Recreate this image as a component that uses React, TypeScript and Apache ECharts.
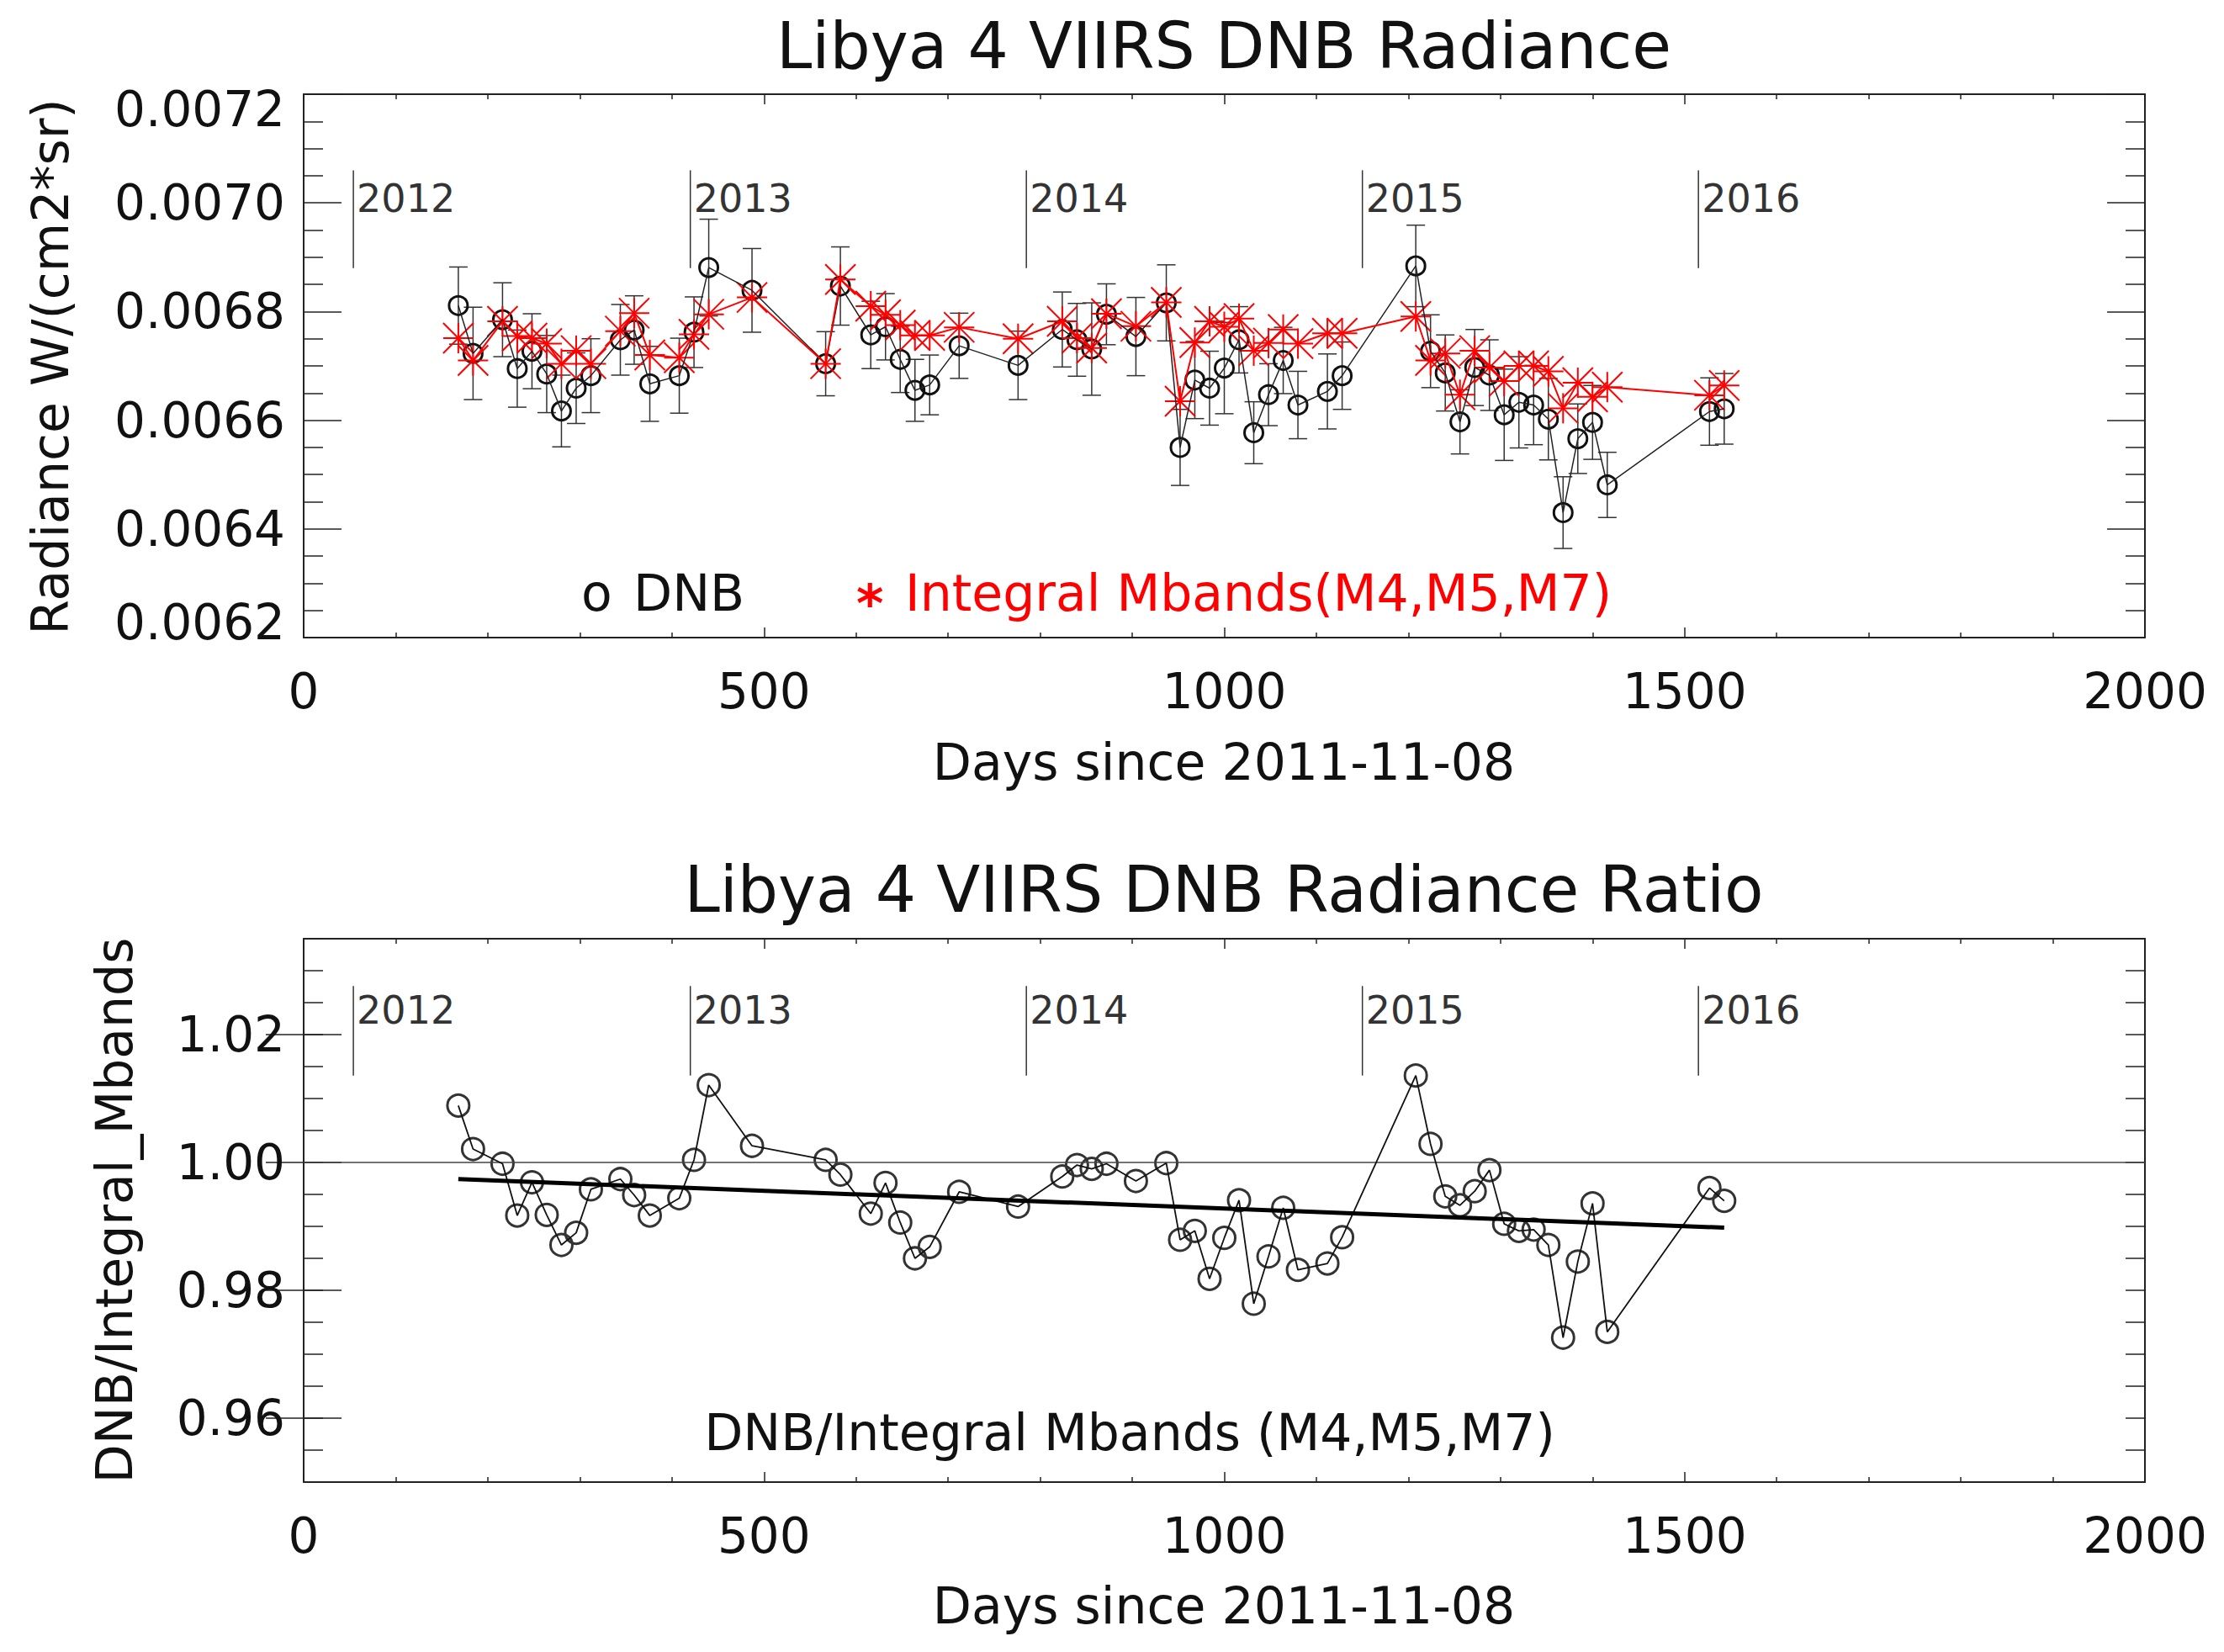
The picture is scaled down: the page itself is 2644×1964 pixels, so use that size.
import React, { useEffect, useRef } from 'react';
import * as echarts from 'echarts';
import type { EChartsType } from 'echarts';

// days since 2011-11-08
const days = [
  168, 184, 216, 232, 248, 264, 280, 296, 312, 344, 359, 376, 408, 424, 440,
  487, 567, 583, 616, 632, 648, 664, 680, 712, 776, 824, 840, 856, 872, 904,
  937, 952, 968, 984, 1000, 1016, 1032, 1048, 1064, 1080, 1112, 1128, 1208,
  1224, 1240, 1256, 1272, 1288, 1304, 1320, 1336, 1352, 1368, 1384, 1400,
  1416, 1527, 1543
];

const dnbRadiance = [
  0.006811, 0.006723, 0.006785, 0.006695, 0.006727, 0.006685, 0.006617, 0.006659, 0.006682,
  0.006748, 0.006766, 0.006667, 0.006682, 0.006762, 0.006881,
  0.006839, 0.006704, 0.006847,
  0.006757, 0.006772, 0.006712, 0.006655, 0.006665, 0.006737,
  0.006701, 0.006767, 0.006748, 0.006731, 0.006795, 0.006754,
  0.006816, 0.00655, 0.006674, 0.006659, 0.006696, 0.006748,
  0.006577, 0.006647, 0.00671, 0.006628, 0.006653, 0.006682,
  0.006884, 0.006727, 0.006687, 0.006597, 0.006697, 0.006683,
  0.00661, 0.006633, 0.006628, 0.006602, 0.00643, 0.006566,
  0.006596, 0.006481, 0.006616, 0.006621
];

const dnbError = [
  7.1e-5, 8.5e-5, 6.8e-5, 7.1e-5, 6.9e-5, 7.1e-5, 6.6e-5, 6.5e-5, 6.8e-5,
  6.5e-5, 6.3e-5, 6.9e-5, 6.9e-5, 6.5e-5, 8.9e-5,
  7.7e-5, 5.9e-5, 7.2e-5,
  6.2e-5, 6.1e-5, 6.1e-5, 5.7e-5, 5.5e-5, 6.0e-5,
  6.3e-5, 6.9e-5, 6.7e-5, 8.5e-5, 5.6e-5, 7.2e-5,
  7.0e-5, 7.0e-5, 7.1e-5, 6.8e-5, 8.4e-5, 6.1e-5,
  5.7e-5, 5.7e-5, 6.1e-5, 6.2e-5, 6.9e-5, 6.2e-5,
  7.5e-5, 6.7e-5, 7.0e-5, 5.9e-5, 7.0e-5, 6.5e-5,
  8.4e-5, 8.4e-5, 7.3e-5, 7.5e-5, 6.6e-5, 6.4e-5,
  6.8e-5, 6.0e-5, 6.2e-5, 6.5e-5
];

const mbandRadiance = [
  0.006751, 0.00671, 0.006782, 0.006755, 0.006751, 0.006741, 0.006704, 0.006728, 0.006704,
  0.006764, 0.006797, 0.00672, 0.006715, 0.006758, 0.006795,
  0.006826, 0.006704, 0.006859,
  0.00681, 0.006794, 0.006775, 0.006756, 0.006756, 0.006771,
  0.00675, 0.006782, 0.006751, 0.006733, 0.006796, 0.006773,
  0.006817, 0.006635, 0.006743, 0.006782, 0.006772, 0.006787,
  0.006728, 0.006742, 0.006767, 0.006741, 0.00676, 0.00676,
  0.006791, 0.00671, 0.006723, 0.006647, 0.006728, 0.006697,
  0.006672, 0.0067, 0.0067, 0.00669, 0.006622, 0.006669,
  0.006643, 0.006661, 0.006646, 0.006664
];

const ratio = [
  1.0089, 1.0021, 0.9998, 0.9917, 0.9969, 0.9918, 0.9871, 0.989, 0.9958,
  0.9974, 0.9949, 0.9917, 0.9944, 1.0004, 1.0121,
  1.0026, 1.0004, 0.9981,
  0.992, 0.9968, 0.9906, 0.985, 0.9868, 0.9954,
  0.9931, 0.9978, 0.9996, 0.999, 0.9998, 0.9971,
  0.9999, 0.9879, 0.9893, 0.9818, 0.9882, 0.9941,
  0.9779, 0.9853, 0.9929, 0.9832, 0.9842, 0.9883,
  1.0136, 1.0029, 0.9947, 0.9933, 0.9955, 0.9988,
  0.9904, 0.9893, 0.9895, 0.9871, 0.9726, 0.9845,
  0.9936, 0.9735, 0.996, 0.994
];

const trendDays = [168, 1543];
const trendRatio = [0.9974, 0.9898];
const unityDays = [0, 2000];
const unityRatio = [1, 1];

const yearDays = [54, 420, 785, 1150, 1515];
const yearLabels = ['2012', '2013', '2014', '2015', '2016'];

const ratioLabelTicks = [0.96, 0.98, 1.0, 1.02];

const FONT = 'DejaVu Sans';
const AXIS_COLOR = '#222';

const pairs = (xs: number[], ys: number[]) => xs.map((x, i) => [x, ys[i]]);

const xAxis = (gridIndex: number, position: string, showLabel: boolean) => ({
  type: 'value',
  gridIndex,
  position,
  min: 0,
  max: 2000,
  interval: 500,
  axisLine: { show: true, onZero: false, lineStyle: { color: AXIS_COLOR, width: 2 } },
  axisTick: { show: true, inside: true, length: 12, lineStyle: { color: AXIS_COLOR, width: 1.5 } },
  minorTick: { show: true, splitNumber: 5, length: 6, lineStyle: { color: AXIS_COLOR, width: 1.5 } },
  axisLabel: {
    show: showLabel,
    margin: 35,
    fontSize: 58,
    fontFamily: FONT,
    color: '#111',
    formatter: (v: number) => String(Math.round(v))
  },
  splitLine: { show: false }
});

// IDL nudges the end labels inward, done here with rich-text padding
const radianceLabel = (v: number) => {
  const s = v.toFixed(4);
  if (Math.abs(v - 0.0062) < 1e-9) return `{lo|${s}}`;
  if (Math.abs(v - 0.0072) < 1e-9) return `{hi|${s}}`;
  return s;
};

const radianceAxis = (position: string, showLabel: boolean) => ({
  type: 'value',
  gridIndex: 0,
  position,
  min: 0.0062,
  max: 0.0072,
  interval: 0.0002,
  axisLine: { show: true, onZero: false, lineStyle: { color: AXIS_COLOR, width: 2 } },
  axisTick: { show: true, inside: true, length: 45, lineStyle: { color: AXIS_COLOR, width: 1.5 } },
  minorTick: { show: true, splitNumber: 4, length: 23, lineStyle: { color: AXIS_COLOR, width: 1.5 } },
  axisLabel: {
    show: showLabel,
    margin: 22,
    fontSize: 58,
    fontFamily: FONT,
    color: '#111',
    formatter: radianceLabel,
    rich: {
      lo: { fontSize: 58, fontFamily: FONT, color: '#111', padding: [0, 0, 36, 0] },
      hi: { fontSize: 58, fontFamily: FONT, color: '#111', padding: [36, 0, 0, 0] }
    }
  },
  splitLine: { show: false }
});

// minor ticks every 0.005
const ratioMinorAxis = (position: string) => ({
  type: 'value',
  gridIndex: 1,
  position,
  min: 0.95,
  max: 1.035,
  interval: 0.005,
  axisLine: { show: true, onZero: false, lineStyle: { color: AXIS_COLOR, width: 2 } },
  axisTick: { show: true, inside: true, length: 23, lineStyle: { color: AXIS_COLOR, width: 1.5 } },
  axisLabel: { show: false },
  splitLine: { show: false }
});

// major ticks + labels at 0.96, 0.98, 1.00, 1.02
const ratioMajorAxis = (position: string, showLabel: boolean) => ({
  type: 'value',
  gridIndex: 1,
  position,
  min: 0.95,
  max: 1.035,
  axisLine: { show: false },
  axisTick: {
    show: true,
    inside: true,
    length: 45,
    customValues: ratioLabelTicks,
    lineStyle: { color: AXIS_COLOR, width: 1.5 }
  },
  axisLabel: {
    show: showLabel,
    customValues: ratioLabelTicks,
    margin: 22,
    fontSize: 58,
    fontFamily: FONT,
    color: '#111',
    formatter: (v: number) => v.toFixed(2)
  },
  splitLine: { show: false }
});

const yearMarkers = (xAxisIndex: number, yAxisIndex: number, span: number[], labelY: number) => ({
  type: 'custom',
  xAxisIndex,
  yAxisIndex,
  silent: true,
  data: yearDays.map((d) => [d, span[0]]),
  renderItem: (params: any, api: any) => {
    const d = api.value(0);
    const lo = api.coord([d, span[0]]);
    const hi = api.coord([d, span[1]]);
    const lab = api.coord([d, labelY]);
    return {
      type: 'group',
      children: [
        {
          type: 'line',
          shape: { x1: hi[0], y1: hi[1], x2: lo[0], y2: lo[1] },
          style: { stroke: '#333', lineWidth: 1.5 }
        },
        {
          type: 'text',
          x: lab[0] + 4,
          y: lab[1],
          style: {
            text: yearLabels[params.dataIndex],
            fill: '#333',
            fontSize: 46,
            fontFamily: FONT,
            align: 'left',
            verticalAlign: 'middle'
          }
        }
      ]
    };
  }
});

const circleMarks = (xAxisIndex: number, yAxisIndex: number, data: number[][], r: number, color: string) => ({
  type: 'custom',
  xAxisIndex,
  yAxisIndex,
  silent: true,
  data,
  renderItem: (params: any, api: any) => {
    const p = api.coord([api.value(0), api.value(1)]);
    return {
      type: 'circle',
      shape: { cx: p[0], cy: p[1], r },
      style: { fill: 'none', stroke: color, lineWidth: 3 }
    };
  }
});

const App = () => {
  const chartRef = useRef<HTMLDivElement>(null);

  useEffect(() => {
    let chart: EChartsType | null = null;
    if (chartRef.current) {
      chart = echarts.init(chartRef.current, null, { renderer: 'svg' });

      const dnbPts = pairs(days, dnbRadiance);
      const mbandPts = pairs(days, mbandRadiance);
      const ratioPts = pairs(days, ratio);
      const errData = days.map((d, i) => [d, dnbRadiance[i], dnbError[i]]);

      const option = {
        animation: false,
        backgroundColor: '#fff',
        textStyle: { fontFamily: FONT },
        grid: [
          { left: 353, top: 104, width: 2189, height: 646, containLabel: false },
          { left: 353, top: 1108, width: 2189, height: 646, containLabel: false }
        ],
        xAxis: [
          xAxis(0, 'bottom', true),
          xAxis(0, 'top', false),
          xAxis(1, 'bottom', true),
          xAxis(1, 'top', false)
        ],
        yAxis: [
          radianceAxis('left', true),
          radianceAxis('right', false),
          ratioMinorAxis('left'),
          ratioMajorAxis('left', true),
          ratioMinorAxis('right'),
          ratioMajorAxis('right', false)
        ],
        graphic: [
          {
            type: 'text', x: 1447, y: 46,
            style: { text: 'Libya 4 VIIRS DNB Radiance', fontSize: 76, fontFamily: FONT, fill: '#111', align: 'center', verticalAlign: 'middle' }
          },
          {
            type: 'text', x: 1447, y: 1049,
            style: { text: 'Libya 4 VIIRS DNB Radiance Ratio', fontSize: 76, fontFamily: FONT, fill: '#111', align: 'center', verticalAlign: 'middle' }
          },
          {
            type: 'text', x: 1447, y: 898,
            style: { text: 'Days since 2011-11-08', fontSize: 60, fontFamily: FONT, fill: '#111', align: 'center', verticalAlign: 'middle' }
          },
          {
            type: 'text', x: 1447, y: 1901,
            style: { text: 'Days since 2011-11-08', fontSize: 60, fontFamily: FONT, fill: '#111', align: 'center', verticalAlign: 'middle' }
          },
          {
            type: 'text', x: 52, y: 428, rotation: Math.PI / 2,
            style: { text: 'Radiance W/(cm2*sr)', fontSize: 60, fontFamily: FONT, fill: '#111', align: 'center', verticalAlign: 'middle' }
          },
          {
            type: 'text', x: 128, y: 1431, rotation: Math.PI / 2,
            style: { text: 'DNB/Integral_Mbands', fontSize: 60, fontFamily: FONT, fill: '#111', align: 'center', verticalAlign: 'middle' }
          },
          {
            type: 'text', x: 683, y: 697,
            style: { text: 'o', fontSize: 60, fontFamily: FONT, fill: '#111', align: 'left', verticalAlign: 'middle' }
          },
          {
            type: 'text', x: 745, y: 697,
            style: { text: 'DNB', fontSize: 60, fontFamily: FONT, fill: '#111', align: 'left', verticalAlign: 'middle' }
          },
          {
            type: 'text', x: 1010, y: 709,
            style: { text: '*', fontSize: 62, fontWeight: 'bold', fontFamily: FONT, fill: '#ff0000', align: 'left', verticalAlign: 'middle' }
          },
          {
            type: 'text', x: 1068, y: 697,
            style: { text: 'Integral Mbands(M4,M5,M7)', fontSize: 60, fontFamily: FONT, fill: '#ff0000', align: 'left', verticalAlign: 'middle' }
          },
          {
            type: 'text', x: 1335, y: 1695,
            style: { text: 'DNB/Integral Mbands (M4,M5,M7)', fontSize: 60, fontFamily: FONT, fill: '#111', align: 'center', verticalAlign: 'middle' }
          }
        ],
        series: [
          // top panel
          yearMarkers(0, 0, [0.00688, 0.00706], 0.0070075),
          {
            type: 'line', xAxisIndex: 0, yAxisIndex: 0, symbol: 'none', silent: true,
            data: dnbPts,
            lineStyle: { color: '#222', width: 1.5 }
          },
          {
            type: 'custom', xAxisIndex: 0, yAxisIndex: 0, silent: true,
            data: errData,
            renderItem: (params: any, api: any) => {
              const x = api.value(0);
              const v = api.value(1);
              const e = api.value(2);
              const hi = api.coord([x, v + e]);
              const lo = api.coord([x, v - e]);
              const w = 11;
              const st = { stroke: '#333', lineWidth: 1.5 };
              return {
                type: 'group',
                children: [
                  { type: 'line', shape: { x1: hi[0], y1: hi[1], x2: lo[0], y2: lo[1] }, style: st },
                  { type: 'line', shape: { x1: hi[0] - w, y1: hi[1], x2: hi[0] + w, y2: hi[1] }, style: st },
                  { type: 'line', shape: { x1: lo[0] - w, y1: lo[1], x2: lo[0] + w, y2: lo[1] }, style: st }
                ]
              };
            }
          },
          circleMarks(0, 0, dnbPts, 11, '#111'),
          {
            type: 'line', xAxisIndex: 0, yAxisIndex: 0, symbol: 'none', silent: true,
            data: mbandPts,
            lineStyle: { color: '#ff0000', width: 2 }
          },
          {
            type: 'custom', xAxisIndex: 0, yAxisIndex: 0, silent: true,
            data: mbandPts,
            renderItem: (params: any, api: any) => {
              const p = api.coord([api.value(0), api.value(1)]);
              const r = 18;
              const st = { stroke: '#ff0000', lineWidth: 2 };
              return {
                type: 'group',
                children: [
                  { type: 'line', shape: { x1: p[0] - r, y1: p[1], x2: p[0] + r, y2: p[1] }, style: st },
                  { type: 'line', shape: { x1: p[0], y1: p[1] - r, x2: p[0], y2: p[1] + r }, style: st },
                  { type: 'line', shape: { x1: p[0] - r, y1: p[1] - r, x2: p[0] + r, y2: p[1] + r }, style: st },
                  { type: 'line', shape: { x1: p[0] - r, y1: p[1] + r, x2: p[0] + r, y2: p[1] - r }, style: st }
                ]
              };
            }
          },
          // bottom panel
          yearMarkers(2, 2, [1.0136, 1.0276], 1.0238),
          {
            type: 'line', xAxisIndex: 2, yAxisIndex: 2, symbol: 'none', silent: true,
            data: pairs(unityDays, unityRatio),
            lineStyle: { color: '#444', width: 1.5 }
          },
          {
            type: 'line', xAxisIndex: 2, yAxisIndex: 2, symbol: 'none', silent: true,
            data: ratioPts,
            lineStyle: { color: '#111', width: 1.8 }
          },
          circleMarks(2, 2, ratioPts, 13, '#333'),
          {
            type: 'line', xAxisIndex: 2, yAxisIndex: 2, symbol: 'none', silent: true,
            data: pairs(trendDays, trendRatio),
            lineStyle: { color: '#000', width: 5 }
          }
        ]
      };

      chart.setOption(option as any);
    }
    return () => {
      chart?.dispose();
    };
  }, []);

  return <div ref={chartRef} style={{ width: '2628px', height: '1948px' }}></div>;
};

export default App;
